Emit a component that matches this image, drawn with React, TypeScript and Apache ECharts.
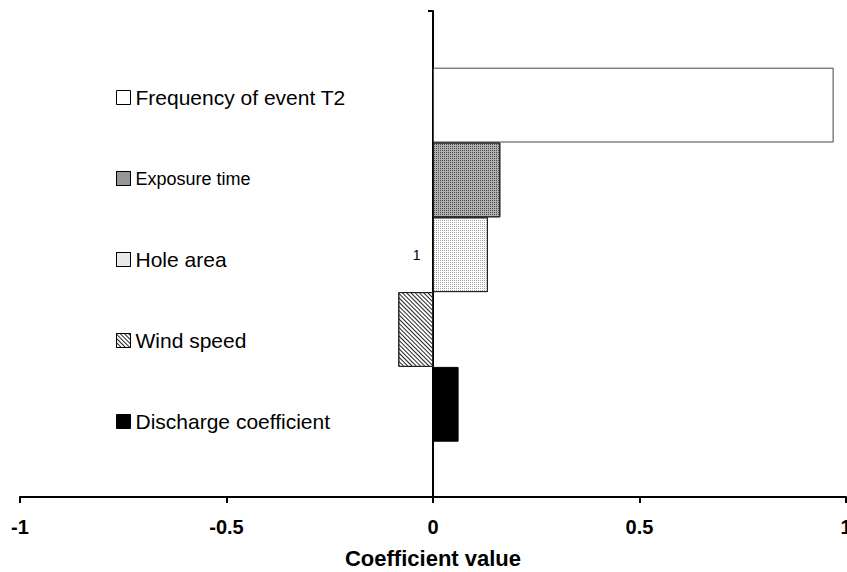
import React, { useEffect, useRef } from "react";
import * as echarts from "echarts";

const categories = ["1"];
const seriesNames = [
  "Frequency of event T2",
  "Exposure time",
  "Hole area",
  "Wind speed",
  "Discharge coefficient",
];
const seriesValues = [0.97, 0.163, 0.133, -0.084, 0.062];
const xMin = -1;
const xMax = 1;
const xInterval = 0.5;

const FONT = "'Liberation Sans', Arial, sans-serif";

const seriesStyles: any[] = [
  { color: "#ffffff", borderColor: "#444444", borderWidth: 1 },
  {
    color: "#b0b0b0",
    borderColor: "#222222",
    borderWidth: 1,
    decal: { symbol: "rect", symbolSize: 1, dashArrayX: [1, 1], dashArrayY: [1, 1], color: "#4a4a4a" },
  },
  {
    color: "#ffffff",
    borderColor: "#222222",
    borderWidth: 1,
    decal: { symbol: "rect", symbolSize: 1, dashArrayX: [1, 1], dashArrayY: [1, 1], color: "#a8a8a8" },
  },
  {
    color: "#ffffff",
    borderColor: "#222222",
    borderWidth: 1,
    decal: { symbol: "rect", symbolSize: 1, dashArrayX: [1, 0], dashArrayY: [1, 1.2], rotation: Math.PI / 4, color: "#222222" },
  },
  { color: "#000000", borderColor: "#000000", borderWidth: 1 },
];

const legendFontSizes = [21, 18, 21, 21, 21];

export default function App() {
  const ref = useRef<HTMLDivElement>(null);

  useEffect(() => {
    if (!ref.current) return;
    const chart = echarts.init(ref.current, null, { renderer: "svg" });
    const option: any = {
      animation: false,
      backgroundColor: "#ffffff",
      textStyle: { fontFamily: FONT },
      legend: {
        orient: "vertical",
        left: 116,
        top: 87,
        padding: 0,
        itemWidth: 14,
        itemHeight: 14,
        itemGap: 60,
        icon: "rect",
        selectedMode: false,
        itemStyle: { borderColor: "#000000", borderWidth: 1 },
        textStyle: { color: "#000000", fontFamily: FONT, lineHeight: 21 },
        data: seriesNames.map((n, i) => ({
          name: n,
          textStyle: { fontSize: legendFontSizes[i], color: "#000000", fontFamily: FONT, lineHeight: 21 },
        })),
      },
      grid: [
        { left: 20, right: 1, top: 11, bottom: 75, containLabel: false, outerBoundsMode: "none" },
        { left: 20, right: 1, top: 67.7, bottom: 130.3, containLabel: false, outerBoundsMode: "none" },
      ],
      xAxis: [
        {
          type: "value",
          gridIndex: 0,
          min: xMin,
          max: xMax,
          interval: xInterval,
          axisLine: { show: true, lineStyle: { color: "#000000", width: 2 } },
          axisTick: { show: true, length: 6, lineStyle: { color: "#000000", width: 2 } },
          splitLine: { show: false },
          axisLabel: {
            color: "#000000",
            fontWeight: "bold",
            fontSize: 20,
            fontFamily: FONT,
            margin: 20,
          },
          name: "Coefficient value",
          nameLocation: "middle",
          nameGap: 50,
          nameTextStyle: { color: "#000000", fontWeight: "bold", fontSize: 22, fontFamily: FONT },
        },
        {
          type: "value",
          gridIndex: 1,
          min: xMin,
          max: xMax,
          interval: xInterval,
          show: false,
        },
      ],
      yAxis: [
        {
          type: "value",
          gridIndex: 0,
          min: 0,
          max: 1,
          interval: 1,
          axisLine: { show: true, onZero: true, lineStyle: { color: "#000000", width: 2 } },
          axisTick: { show: true, length: 5, lineStyle: { color: "#000000", width: 2 } },
          axisLabel: { show: false },
          splitLine: { show: false },
        },
        {
          type: "category",
          gridIndex: 1,
          data: categories,
          position: "left",
          offset: -412.5,
          axisLine: { show: false, onZero: false },
          axisTick: { show: false },
          axisLabel: { color: "#000000", fontSize: 14, fontFamily: FONT, margin: 12 },
          splitLine: { show: false },
        },
      ],
      series: seriesNames.map((n, i) => ({
        name: n,
        type: "bar",
        xAxisIndex: 1,
        yAxisIndex: 1,
        barGap: "0%",
        barCategoryGap: "0%",
        itemStyle: seriesStyles[i],
        emphasis: { disabled: true },
        data: [seriesValues[i]],
      })),
    };
    chart.setOption(option);
    return () => chart.dispose();
  }, []);

  return (
    <div
      ref={ref}
      style={{ position: "fixed", left: 0, top: 0, width: 847, height: 572, background: "#fff" }}
    />
  );
}
